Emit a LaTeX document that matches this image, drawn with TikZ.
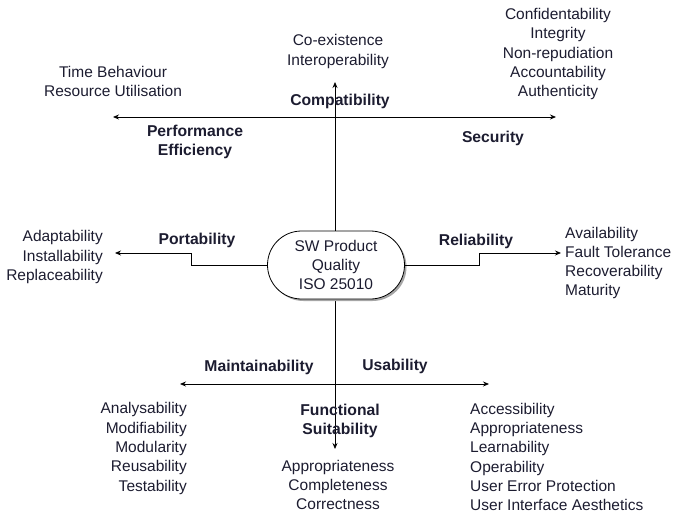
\documentclass[tikz,border=0pt]{standalone}
\usepackage{fontspec}
\setmainfont{Liberation Sans}
\usetikzlibrary{arrows.meta,shapes.misc,shadows}
\definecolor{txt}{RGB}{28,28,48}
\begin{document}
\begin{tikzpicture}[x=1pt,y=-1pt,
  lbl/.style={font=\fontsize{15.5}{19.3}\selectfont, text=txt, inner sep=0pt},
  cat/.style={font=\fontsize{15.7}{19.8}\selectfont\bfseries, text=txt, inner sep=0pt, align=center},
  axis/.style={line width=0.8pt, {Stealth[length=6pt,width=5pt]}-{Stealth[length=6pt,width=5pt]}},
  conn/.style={line width=0.8pt, -{Stealth[length=6pt,width=5pt]}},
  core/.style={rounded rectangle, draw, line width=0.8pt, fill=white, minimum width=137pt, minimum height=68pt, inner sep=0pt, align=center,
     font=\fontsize{15.5}{19.3}\selectfont, text=txt,
     drop shadow={shadow xshift=2pt, shadow yshift=-2pt, fill=gray!70, opacity=1}}]
\useasboundingbox (0,0) rectangle (680,519);
% axes
\coordinate (vt) at (335,82);
\coordinate (vb) at (335,449);
\coordinate (tl) at (113,117);
\coordinate (tr) at (556,117);
\coordinate (bl) at (180,384);
\coordinate (br) at (489,384);
\draw[axis] (vb) -- (vt);
\draw[axis] (tl) -- (tr);
\draw[axis] (bl) -- (br);
% core node
\node[core] (core) at (336,265) {SW Product\\Quality\\ISO 25010};
\coordinate (pl) at (115,253);
\coordinate (rl) at (561,253);
\draw[conn] (core.west) -| (191,253) -- (pl);
\draw[conn] (core.east) -| (479,253) -- (rl);
% category labels
\node[cat] (compat) at (340,101) {Compatibility};
\node[cat] (perf) at (195,142) {Performance\\Efficiency};
\node[cat] (sec) at (493,138) {Security};
\node[cat] (port) at (197,240) {Portability};
\node[cat] (rel) at (476,241) {Reliability};
\node[cat] (maint) at (259,367) {Maintainability};
\node[cat] (usab) at (395,366) {Usability};
\node[cat] (func) at (340,421) {Functional\\Suitability};
% sub-characteristics
\node[lbl, align=center] (perfs) at (113,81.5) {Time Behaviour\\Resource Utilisation};
\node[lbl, align=center] (compats) at (338,51.5) {Co-existence\\Interoperability};
\node[lbl, align=center] (secs) at (558,54) {Confidentability\\Integrity\\Non-repudiation\\Accountability\\Authenticity};
\node[lbl, align=right, anchor=east] (ports) at (103,257) {Adaptability\\Installability\\Replaceability};
\node[lbl, align=left, anchor=west] (rels) at (565,263) {Availability\\Fault Tolerance\\Recoverability\\Maturity};
\node[lbl, align=right, anchor=east] (maints) at (187,448.5) {Analysability\\Modifiability\\Modularity\\Reusability\\Testability};
\node[lbl, align=left, anchor=west] (usabs) at (470,457) {Accessibility\\Appropriateness\\Learnability\\Operability\\User Error Protection\\User Interface Aesthetics};
\node[lbl, align=center] (funcs) at (338,485) {Appropriateness\\Completeness\\Correctness};
\end{tikzpicture}
\end{document}
